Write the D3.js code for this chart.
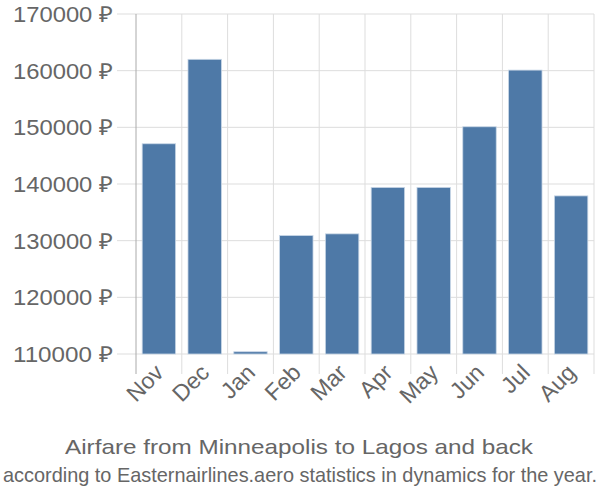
<!DOCTYPE html>
<html><head><meta charset="utf-8">
<script src="https://cdn.jsdelivr.net/npm/d3@7"></script>
<style>body{margin:0;background:#fff}svg{display:block}text{font-family:"Liberation Sans",Arial,sans-serif}</style>
</head><body>
<svg id="c" width="600" height="500"></svg>
<script>
const months = ["Nov","Dec","Jan","Feb","Mar","Apr","May","Jun","Jul","Aug"];
const prices = [147100,162000,110400,130900,131200,139400,139400,150100,160100,137900];
const yTicks = [110000,120000,130000,140000,150000,160000,170000];
const title = "Airfare from Minneapolis to Lagos and back";
const subtitle = "according to Easternairlines.aero statistics in dynamics for the year.";

const svg = d3.select("#c");
const x = d3.scaleBand().domain(months).range([136,594]).paddingInner(0.27).paddingOuter(0.135);
const xg = d3.scaleBand().domain(months).range([136,594]);
const y = d3.scaleLinear().domain([110000,170000]).range([354,14]);

// horizontal grid
svg.append("g").selectAll("line").data(yTicks).join("line")
  .attr("x1",117).attr("x2",594).attr("y1",d=>y(d)).attr("y2",d=>y(d))
  .attr("stroke","#dddddd").attr("stroke-width",1);
// vertical grid
const vx = months.map(m=>xg(m)).concat([594]);
svg.append("g").selectAll("line").data(vx.slice(1)).join("line")
  .attr("x1",d=>d).attr("x2",d=>d).attr("y1",14).attr("y2",374)
  .attr("stroke","#dddddd").attr("stroke-width",1);
// axis line
svg.append("line").attr("x1",136).attr("x2",136).attr("y1",14).attr("y2",374)
  .attr("stroke","#aaaaaa").attr("stroke-width",1);

// bars
svg.append("g").selectAll("rect").data(prices).join("rect")
  .attr("x",(d,i)=>x(months[i])).attr("width",x.bandwidth())
  .attr("y",d=>y(d)).attr("height",d=>y(110000)-y(d))
  .attr("fill","#4e79a7").attr("stroke","#c8d6e6").attr("stroke-width",0.8);

// y labels
svg.append("g").selectAll("text").data(yTicks).join("text")
  .attr("x",113).attr("y",d=>y(d)+8).attr("text-anchor","end")
  .attr("font-size",22).attr("fill","#666")
  .attr("textLength",100).attr("lengthAdjust","spacingAndGlyphs").text(d=>d+" ₽");

// x labels
svg.append("g").selectAll("text").data(months).join("text")
  .attr("transform",d=>`translate(${xg(d)+xg.bandwidth()/2+6},${374}) rotate(-45)`)
  .attr("text-anchor","end").attr("font-size",23).attr("fill","#666").text(d=>d);

svg.append("text").attr("x",299).attr("y",453.5).attr("text-anchor","middle")
  .attr("font-size",21).attr("fill","#666")
  .attr("textLength",468).attr("lengthAdjust","spacingAndGlyphs").text(title);
svg.append("text").attr("transform","translate(300,482) scale(1,1.167)").attr("text-anchor","middle")
  .attr("font-size",18).attr("fill","#666")
  .attr("textLength",594).attr("lengthAdjust","spacingAndGlyphs").text(subtitle);
</script>
</body></html>
